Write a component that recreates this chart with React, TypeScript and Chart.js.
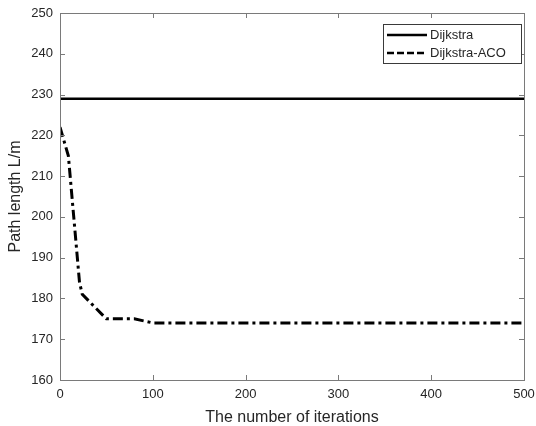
import React, { useEffect, useRef } from "react";
import { Chart, registerables } from "chart.js";

Chart.register(...registerables);

const dijkstraX = [0, 500];
const dijkstraY = [229, 229];
const acoX = [0, 9, 21, 24, 50, 80, 100, 500];
const acoY = [222, 215, 184, 181, 175, 175, 174, 174];
const xTicks = [0, 100, 200, 300, 400, 500];
const yTicks = [160, 170, 180, 190, 200, 210, 220, 230, 240, 250];
const seriesNames = ["Dijkstra", "Dijkstra-ACO"];

const FONT = "'Liberation Sans', Arial, Helvetica, sans-serif";
const AXIS_COLOR = "#7a7a7a";
const TEXT_COLOR = "#262626";

const boxPlugin = {
  id: "matlabBox",
  afterDraw(chart: any) {
    const { ctx, chartArea } = chart;
    const { left, right, top, bottom } = chartArea;
    const xs = chart.scales.x;
    const ys = chart.scales.y;
    ctx.save();
    ctx.strokeStyle = AXIS_COLOR;
    ctx.lineWidth = 1;
    ctx.strokeRect(Math.round(left) + 0.5, Math.round(top) + 0.5, Math.round(right - left), Math.round(bottom - top));
    const tl = 5;
    ctx.beginPath();
    xTicks.forEach((v) => {
      const px = Math.round(xs.getPixelForValue(v)) + 0.5;
      ctx.moveTo(px, bottom);
      ctx.lineTo(px, bottom - tl);
      ctx.moveTo(px, top);
      ctx.lineTo(px, top + tl);
    });
    yTicks.forEach((v) => {
      const py = Math.round(ys.getPixelForValue(v)) + 0.5;
      ctx.moveTo(left, py);
      ctx.lineTo(left + tl, py);
      ctx.moveTo(right, py);
      ctx.lineTo(right - tl, py);
    });
    ctx.stroke();

    // legend
    const lx = 383.5, ly = 24.5, lw = 138, lh = 39;
    ctx.fillStyle = "#ffffff";
    ctx.fillRect(lx, ly, lw, lh);
    ctx.strokeStyle = "#3a3a3a";
    ctx.lineWidth = 1;
    ctx.strokeRect(lx, ly, lw, lh);
    const rows = [
      { y: 35, dash: [] as number[], name: seriesNames[0] },
      { y: 53, dash: [7, 3], name: seriesNames[1] },
    ];
    rows.forEach((r) => {
      ctx.beginPath();
      ctx.setLineDash(r.dash);
      ctx.strokeStyle = "#000";
      ctx.lineWidth = 2.5;
      ctx.moveTo(387, r.y);
      ctx.lineTo(427, r.y);
      ctx.stroke();
      ctx.setLineDash([]);
      ctx.fillStyle = TEXT_COLOR;
      ctx.font = `13px ${FONT}`;
      ctx.textBaseline = "middle";
      ctx.textAlign = "left";
      ctx.fillText(r.name, 430, r.y);
    });
    ctx.restore();
  },
};

export default function App() {
  const ref = useRef<HTMLCanvasElement | null>(null);
  useEffect(() => {
    document.body.style.margin = "0";
    if (!ref.current) return;
    const chart = new Chart(ref.current, {
      type: "line",
      data: {
        datasets: [
          {
            label: seriesNames[0],
            data: dijkstraX.map((x, i) => ({ x, y: dijkstraY[i] })),
            borderColor: "#000",
            borderWidth: 2.5,
            pointRadius: 0,
            tension: 0,
          },
          {
            label: seriesNames[1],
            data: acoX.map((x, i) => ({ x, y: acoY[i] })),
            borderColor: "#000",
            borderWidth: 3,
            borderDash: [10, 4, 3, 4],
            pointRadius: 0,
            tension: 0,
          },
        ],
      },
      options: {
        animation: false,
        responsive: false,
        layout: { padding: { top: 13, right: 12, left: 0, bottom: 0 } },
        plugins: { legend: { display: false }, tooltip: { enabled: false } },
        scales: {
          x: {
            type: "linear",
            min: 0,
            max: 500,
            afterFit: (s: any) => {
              s.height = 46;
              s.paddingLeft = 0;
              s.paddingRight = 0;
            },
            afterBuildTicks: (s: any) => {
              s.ticks = xTicks.map((v) => ({ value: v }));
            },
            grid: { display: false, drawTicks: false },
            border: { display: false },
            ticks: {
              padding: 7,
              color: TEXT_COLOR,
              font: { family: FONT, size: 13 },
              maxRotation: 0,
            },
            title: {
              display: true,
              text: "The number of iterations",
              color: TEXT_COLOR,
              font: { family: FONT, size: 16, lineHeight: 1 },
              padding: { top: 0, bottom: 0 },
            },
          },
          y: {
            type: "linear",
            min: 160,
            max: 250,
            afterFit: (s: any) => {
              s.width = 60;
              s.paddingTop = 0;
              s.paddingBottom = 0;
            },
            afterBuildTicks: (s: any) => {
              s.ticks = yTicks.map((v) => ({ value: v }));
            },
            grid: { display: false, drawTicks: false },
            border: { display: false },
            ticks: {
              padding: 7,
              color: TEXT_COLOR,
              font: { family: FONT, size: 13 },
            },
            title: {
              display: true,
              text: "Path length L/m",
              color: TEXT_COLOR,
              font: { family: FONT, size: 16, lineHeight: 1 },
              padding: { top: 8, bottom: 0 },
            },
          },
        },
      },
      plugins: [boxPlugin],
    });
    return () => chart.destroy();
  }, []);
  return <canvas ref={ref} width={536} height={426} style={{ display: "block" }} />;
}
